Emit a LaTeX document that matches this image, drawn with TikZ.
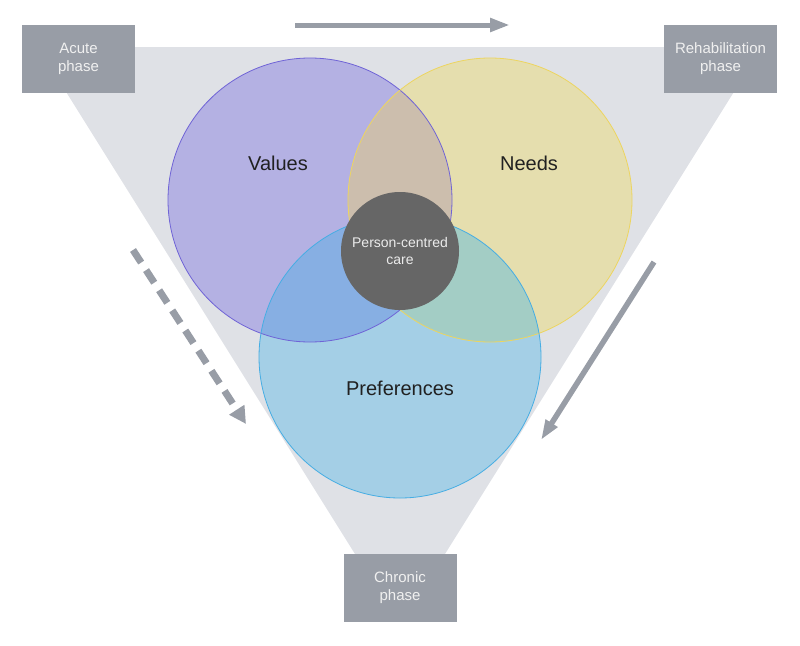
\documentclass[tikz,border=0pt]{standalone}
\usepackage{fontspec}
\setmainfont{Liberation Sans}
\usetikzlibrary{arrows.meta}

\definecolor{funnelgray}{HTML}{DFE1E6}
\definecolor{boxgray}{HTML}{989DA6}
\definecolor{valuesfill}{HTML}{B4B1E3}
\definecolor{valuesline}{HTML}{6F63D6}
\definecolor{needsfill}{HTML}{E5DEAE}
\definecolor{needsline}{HTML}{EDD55F}
\definecolor{preffill}{HTML}{A4CFE6}
\definecolor{prefline}{HTML}{46ADE3}
\definecolor{valneeds}{HTML}{CCBEAD}
\definecolor{valpref}{HTML}{87AFE3}
\definecolor{needspref}{HTML}{A3CDC5}
\definecolor{coregray}{HTML}{666666}

\tikzset{
    phasebox/.style={fill=boxgray, text=white!94!black, minimum width=113pt,
        minimum height=68pt, inner sep=0pt, align=center,
        font=\fontsize{15}{18}\selectfont},
    setlabel/.style={text=black!87, font=\fontsize{20}{24}\selectfont},
    phasearrow/.style={boxgray, line width=5pt, -{Triangle[length=20pt,width=13pt]}},
}

\def\valuescircle{(310,200) circle (142pt)}
\def\needscircle{(490,200) circle (142pt)}
\def\prefcircle{(400,357) circle (141pt)}

\begin{document}
\begin{tikzpicture}[x=1pt,y=-1pt]
    \useasboundingbox (0,0) rectangle (800,645);
    % funnel behind everything
    \fill[funnelgray] (38,47) -- (762,47) -- (445,554) -- (355,554) -- cycle;

    % the three sets
    \fill[valuesfill] \valuescircle;
    \fill[needsfill] \needscircle;
    \fill[preffill] \prefcircle;
    \begin{scope}
        \clip \valuescircle;
        \fill[valneeds] \needscircle;
        \fill[valpref] \prefcircle;
    \end{scope}
    \begin{scope}
        \clip \needscircle;
        \fill[needspref] \prefcircle;
    \end{scope}
    \draw[valuesline, line width=0.8pt] \valuescircle;
    \draw[needsline, line width=0.8pt] \needscircle;
    \draw[prefline, line width=0.8pt] \prefcircle;

    \node[setlabel] (values) at (278,163) {Values};
    \node[setlabel] (needs) at (529,163) {Needs};
    \node[setlabel] (preferences) at (400,388) {Preferences};

    \node[circle, fill=coregray, minimum size=118pt, inner sep=0pt, align=center,
        text=white!92!black, font=\fontsize{14}{17}\selectfont]
        (core) at (400,251) {Person-centred\\care};

    % phases
    \node[phasebox] (acute) at (78.5,59) {Acute\\phase};
    \node[phasebox] (rehab) at (720.5,59) {Rehabilitation\\phase};
    \node[phasebox] (chronic) at (400,588) {Chronic\\phase};

    \coordinate (topstart) at (295,25);
    \coordinate (topend) at (510,25);
    \coordinate (leftstart) at (133,250);
    \coordinate (leftend) at (246,424);
    \coordinate (rightstart) at (654,262);
    \coordinate (rightend) at (541,440);
    \draw[phasearrow] (topstart) -- (topend);
    \draw[phasearrow, line width=7pt, dash pattern=on 15pt off 9pt,
        -{Triangle[length=17pt,width=17pt]}] (leftstart) -- (leftend);
    \draw[phasearrow, line width=5.5pt] (rightstart) -- (rightend);
\end{tikzpicture}
\end{document}
